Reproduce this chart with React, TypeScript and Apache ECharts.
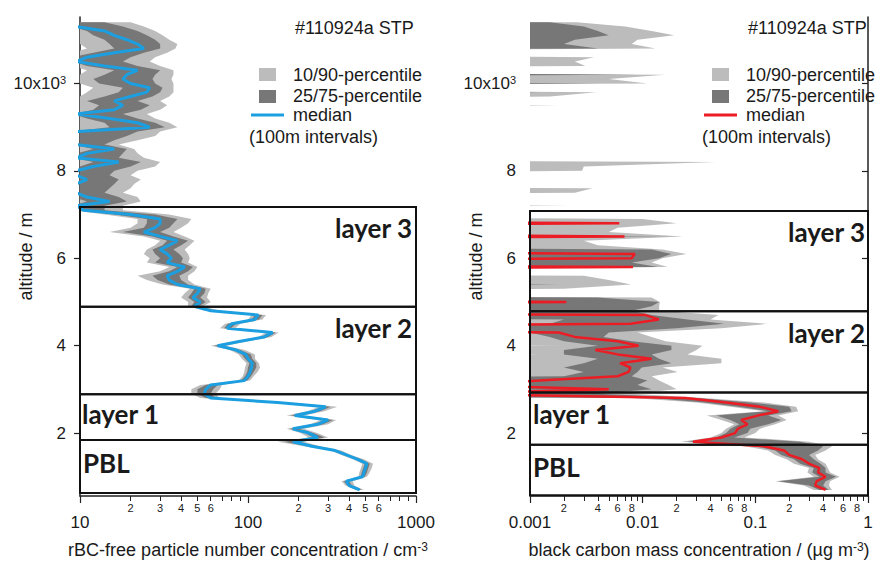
import React, { useEffect, useRef } from 'react';
import * as echarts from 'echarts';

const FONT = '"Liberation Sans", Arial, Helvetica, sans-serif';
const LAYER_FONT = 'Lato, "Noto Sans", sans-serif';
const TXT = '#1a1a1a';
const LIGHT = '#bcbcbc';
const DARK = '#777777';
const BLUE = '#1c9fe0';
const RED = '#ec1c24';
const FLOOR = 1e-9;

// altitude levels in km (100 m intervals)
const ALT = [0.7, 0.8, 0.9, 1.0, 1.1, 1.2, 1.3, 1.4, 1.5, 1.6, 1.7, 1.8, 1.9, 2.0, 2.1, 2.2, 2.3, 2.4, 2.5, 2.6,
  2.7, 2.8, 2.9, 3.0, 3.1, 3.2, 3.3, 3.4, 3.5, 3.6, 3.7, 3.8, 3.9, 4.0, 4.1, 4.2, 4.3, 4.4, 4.5, 4.6,
  4.7, 4.8, 4.9, 5.0, 5.1, 5.2, 5.3, 5.4, 5.5, 5.6, 5.7, 5.8, 5.9, 6.0, 6.1, 6.2, 6.3, 6.4, 6.5, 6.6,
  6.7, 6.8, 6.9, 7.0, 7.1, 7.2, 7.3, 7.4, 7.5, 7.6, 7.7, 7.8, 7.9, 8.0, 8.1, 8.2, 8.3, 8.4, 8.5, 8.6,
  8.7, 8.8, 8.9, 9.0, 9.1, 9.2, 9.3, 9.4, 9.5, 9.6, 9.7, 9.8, 9.9, 10.0, 10.1, 10.2, 10.3, 10.4, 10.5, 10.6,
  10.7, 10.8, 10.9, 11.0, 11.1, 11.2, 11.3, 11.4];

// rBC-free particle number concentration (cm^-3)
const N_P10 = [440, 380, 360, 455, 460, 470, 480, 420, 360, 310,
  215, 150, 230, 205, 170, 235, 270, 170, 225, 265,
  130, 52, 46, 46, 52, 88, 93, 95, 96, 98,
  92, 88, 78, 60, 83, 115, 128, 68, 73, 100,
  105, 55, 44, 44, 40, 42, 45, 31, 25, 22,
  30, 34, 25, 26, 24, 25, 28, 30, 24, 15,
  20, 22, 22, 14, 9, 8, 9, 8, 8, 8,
  8, 8, 8, 8, 8, 9, 8, 8, 9, 8,
  8, 8, 8, 10, 10, 9, 8, 9, 10, 9,
  10, 11, 12, 10, 9, 10, 11, 9, 8, 8,
  9, 11, 10, 10, 9, 9, 8, 8];
const N_P25 = [450, 390, 372, 468, 475, 485, 495, 435, 372, 320,
  228, 165, 245, 218, 178, 248, 285, 180, 238, 278,
  140, 56, 50, 50, 56, 91, 96, 99, 100, 102,
  96, 92, 82, 63, 86, 120, 134, 72, 76, 105,
  110, 57, 46, 48, 44, 46, 48, 34, 29, 27,
  34, 38, 28, 30, 28, 27, 31, 33, 27, 18,
  24, 25, 25, 16, 9.5, 9, 11, 9, 9, 9,
  9, 9.5, 9, 9, 10, 12, 9, 9.5, 12, 9,
  9, 9, 9, 15, 14, 11, 9, 12, 13, 11,
  14, 17, 18, 13, 12, 14, 16, 11, 9, 9,
  12, 16, 15, 14, 12, 11, 9, 9];
const N_MED = [462, 400, 385, 480, 490, 500, 510, 450, 385, 330,
  240, 185, 260, 230, 185, 260, 300, 190, 250, 290,
  150, 60, 55, 56, 60, 95, 100, 103, 105, 106,
  100, 97, 85, 66, 90, 125, 140, 75, 80, 110,
  115, 60, 48, 52, 47, 50, 52, 38, 34, 33,
  38, 42, 33, 35, 33, 30, 34, 38, 30, 24,
  28, 30, 30, 20, 10.5, 9.5, 15, 11, 9.5, 9.5,
  9.5, 11, 9.5, 9.5, 12, 17, 9.5, 11, 16, 9.5,
  9.5, 9.5, 9.5, 26, 22, 15, 9.5, 16, 18, 16,
  20, 25, 26, 20, 18, 19, 22, 14, 9.5, 11,
  16, 24, 22, 19, 16, 14, 9.5, 9.5];
const N_P75 = [475, 415, 400, 495, 510, 520, 530, 470, 398, 345,
  255, 200, 285, 245, 200, 280, 320, 205, 268, 310,
  162, 64, 60, 62, 66, 99, 104, 108, 112, 112,
  106, 104, 90, 70, 95, 132, 146, 79, 85, 116,
  122, 64, 51, 56, 52, 55, 56, 44, 40, 39,
  44, 47, 40, 41, 39, 36, 40, 44, 36, 30,
  34, 36, 38, 28, 14, 14, 19, 17, 14, 15,
  16, 17, 15, 16, 20, 23, 17, 18, 19, 14,
  16, 19, 22, 32, 28, 22, 18, 23, 26, 22,
  27, 30, 31, 28, 27, 28, 30, 22, 18, 20,
  24, 30, 30, 28, 25, 22, 18, 14];
const N_P90 = [490, 430, 420, 510, 530, 545, 555, 490, 410, 360,
  268, 215, 300, 258, 215, 300, 335, 215, 285, 340,
  175, 68, 64, 68, 70, 103, 108, 114, 118, 116,
  110, 110, 96, 74, 100, 138, 152, 84, 90, 122,
  128, 68, 54, 60, 57, 58, 60, 48, 44, 44,
  48, 50, 44, 45, 44, 42, 45, 48, 42, 36,
  40, 44, 46, 34, 18, 18, 23, 22, 18, 20,
  21, 23, 20, 22, 28, 30, 24, 22, 21, 17,
  22, 28, 30, 38, 34, 28, 25, 30, 33, 30,
  34, 36, 36, 36, 35, 36, 36, 30, 26, 28,
  33, 37, 38, 34, 31, 28, 24, 20];

// black carbon mass concentration (ug m^-3); 0 = below detection
const BC_P10 = [0.33, 0.27, 0.15, 0.33, 0.29, 0.30, 0.22, 0.19, 0.15, 0.13,
  0.08, 0.022, 0.04, 0.05, 0.055, 0.065, 0.05, 0.037, 0.12, 0.06,
  0.03, 0.008, 0, 0, 0, 0, 0, 0, 0, 0,
  0, 0.0012, 0, 0.002, 0, 0, 0, 0, 0, 0,
  0, 0, 0, 0, 0, 0, 0, 0, 0, 0,
  0, 0, 0, 0, 0, 0, 0, 0, 0, 0,
  0, 0, 0, 0, 0, 0, 0, 0, 0, 0,
  0, 0, 0, 0, 0, 0, 0, 0, 0, 0,
  0, 0, 0, 0, 0, 0, 0, 0, 0, 0,
  0, 0, 0, 0, 0, 0, 0, 0, 0, 0,
  0, 0, 0, 0, 0, 0, 0, 0];
const BC_P25 = [0.37, 0.30, 0.16, 0.37, 0.32, 0.33, 0.25, 0.22, 0.17, 0.15,
  0.10, 0.025, 0.045, 0.055, 0.06, 0.072, 0.06, 0.045, 0.13, 0.07,
  0.035, 0.012, 0, 0.002, 0, 0, 0.002, 0.003, 0.002, 0.003,
  0.004, 0.002, 0.002, 0.004, 0.002, 0.0015, 0.001, 0, 0.0015, 0.002,
  0, 0, 0, 0.001, 0, 0, 0, 0, 0, 0,
  0, 0, 0, 0, 0, 0, 0, 0, 0, 0,
  0, 0, 0, 0, 0, 0, 0, 0, 0, 0,
  0, 0, 0, 0, 0, 0, 0, 0, 0, 0,
  0, 0, 0, 0, 0, 0, 0, 0, 0, 0,
  0, 0, 0, 0, 0, 0, 0, 0, 0, 0,
  0, 0, 0, 0, 0, 0, 0, 0];
const BC_MED = [0.42, 0.34, 0.35, 0.42, 0.36, 0.37, 0.30, 0.26, 0.20, 0.18,
  0.12, 0.028, 0.05, 0.066, 0.07, 0.085, 0.075, 0.105, 0.16, 0.11,
  0.055, 0.024, 0.0002, 0.005, 0.0002, 0.0012, 0.006, 0.0075, 0.0078, 0.0063,
  0.012, 0.006, 0.0038, 0.0092, 0.006, 0.0025, 0.0018, 0, 0.0078, 0.0139,
  0.0106, 0, 0, 0.0021, 0, 0, 0, 0, 0, 0,
  0, 0.0082, 0, 0.008, 0.0085, 0, 0, 0, 0.0069, 0,
  0, 0.0062, 0, 0, 0, 0, 0, 0, 0, 0,
  0, 0, 0, 0, 0, 0, 0, 0, 0, 0,
  0, 0, 0, 0, 0, 0, 0, 0, 0, 0,
  0, 0, 0, 0, 0, 0, 0, 0, 0, 0,
  0, 0, 0, 0, 0, 0, 0, 0];
const BC_P75 = [0.45, 0.40, 0.42, 0.52, 0.42, 0.42, 0.38, 0.33, 0.30, 0.36,
  0.40, 0.25, 0.065, 0.085, 0.09, 0.13, 0.17, 0.13, 0.21, 0.20,
  0.09, 0.03, 0.004, 0.012, 0.009, 0.011, 0.008, 0.009, 0.0098, 0.018,
  0.014, 0.012, 0.018, 0.018, 0.008, 0.0045, 0.005, 0.02, 0.053, 0.025,
  0.012, 0.008, 0.012, 0.014, 0.004, 0, 0, 0.0018, 0, 0,
  0, 0.0136, 0.008, 0.014, 0.018, 0.012, 0, 0, 0.018, 0,
  0, 0.0062, 0, 0, 0, 0, 0, 0, 0, 0,
  0, 0, 0, 0, 0, 0, 0, 0, 0, 0,
  0, 0, 0, 0, 0, 0, 0, 0, 0, 0,
  0, 0.0012, 0, 0.004, 0, 0.009, 0, 0, 0, 0,
  0, 0.004, 0.002, 0.0025, 0.005, 0.004, 0.003, 0.0015];
const BC_P90 = [0.48, 0.45, 0.46, 0.56, 0.46, 0.44, 0.42, 0.36, 0.34, 0.42,
  0.48, 0.30, 0.08, 0.10, 0.11, 0.15, 0.19, 0.16, 0.24, 0.23,
  0.12, 0.035, 0.008, 0.02, 0.017, 0.014, 0.012, 0.0205, 0.015, 0.05,
  0.05, 0.025, 0.03, 0.034, 0.016, 0.012, 0.009, 0.05, 0.128, 0.04,
  0.047, 0.014, 0.014, 0.0142, 0.012, 0, 0.002, 0.0079, 0.005, 0.003,
  0, 0.0167, 0.012, 0.015, 0.0245, 0.015, 0.004, 0.003, 0.0227, 0.005,
  0.006, 0.02, 0.01, 0, 0, 0.0022, 0, 0, 0.0025, 0.0036,
  0, 0, 0, 0.0029, 0.003, 0.045, 0, 0, 0, 0,
  0, 0, 0, 0, 0, 0, 0, 0, 0.0018, 0,
  0.0015, 0.0039, 0, 0.011, 0.005, 0.0157, 0, 0.0031, 0.0025, 0.0037,
  0, 0.013, 0.008, 0.009, 0.019, 0.012, 0.007, 0.0026];

// layer boundaries (km)
const N_LAYERS = [0.63, 1.84, 2.89, 4.89, 7.17];
const BC_LAYERS = [0.58, 1.73, 2.93, 4.79, 7.08];

// axes
const ALT_MIN = 0.56;
const ALT_MAX = 11.52;
const ALT_TICKS = [2, 4, 6, 8, 10];
const N_RANGE = [10, 1000];
const BC_RANGE = [0.001, 1];
const N_MINOR_TICKS = [20, 30, 40, 50, 60, 70, 80, 90, 200, 300, 400, 500, 600, 700, 800, 900];
const N_MINOR_LABELS = [20, 30, 40, 50, 60, 200, 300, 400, 500, 600];
const BC_MINOR_TICKS = [0.002, 0.003, 0.004, 0.005, 0.006, 0.007, 0.008, 0.009,
  0.02, 0.03, 0.04, 0.05, 0.06, 0.07, 0.08, 0.09, 0.2, 0.3, 0.4, 0.5, 0.6, 0.7, 0.8, 0.9];
const BC_MINOR_LABELS = [0.002, 0.004, 0.006, 0.008, 0.02, 0.04, 0.06, 0.08, 0.2, 0.4, 0.6, 0.8];

const pos = (v: number) => (v > 0 ? v : FLOOR);

function bandSeries(xi: number, yi: number, lo: number[], hi: number[], color: string, z: number) {
  return {
    type: 'custom',
    xAxisIndex: xi,
    yAxisIndex: yi,
    clip: true,
    silent: true,
    z,
    data: [[pos(hi[0]), ALT[0]]],
    renderItem: (_p: any, api: any) => {
      const pts: number[][] = [];
      for (let i = 0; i < ALT.length; i++) pts.push(api.coord([pos(lo[i]), ALT[i]]));
      for (let i = ALT.length - 1; i >= 0; i--) pts.push(api.coord([pos(hi[i]), ALT[i]]));
      return { type: 'polygon', shape: { points: pts }, style: { fill: color } };
    },
  };
}

function boxSeries(xi: number, yi: number, bounds: number[], range: number[]) {
  return {
    type: 'custom',
    xAxisIndex: xi,
    yAxisIndex: yi,
    silent: true,
    z: 6,
    data: bounds.slice(0, -1).map((b) => [range[0], b]),
    renderItem: (p: any, api: any) => {
      const i = p.dataIndex;
      const a = api.coord([range[0], bounds[i]]);
      const b = api.coord([range[1], bounds[i + 1]]);
      return {
        type: 'rect',
        shape: { x: a[0], y: b[1], width: b[0] - a[0], height: a[1] - b[1] },
        style: { fill: 'none', stroke: '#111', lineWidth: 2 },
      };
    },
  };
}

function medianSeries(xi: number, yi: number, med: number[], color: string, w: number) {
  return {
    type: 'line',
    xAxisIndex: xi,
    yAxisIndex: yi,
    symbol: 'none',
    silent: true,
    clip: true,
    z: 4,
    lineStyle: { color, width: w },
    data: ALT.map((a, i) => [pos(med[i]), a]),
  };
}

const fmtNum = (v: number) => String(+Number(v).toPrecision(6));
const fmtDigit = (v: number) => {
  const e = Math.floor(v + 1e-9);
  return String(Math.round(Math.pow(10, v - e)));
};

function majorAxis(grid: number, range: number[], name: string) {
  return {
    gridIndex: grid,
    type: 'log',
    logBase: 10,
    min: range[0],
    max: range[1],
    position: 'bottom',
    axisLine: { show: true, lineStyle: { color: '#222', width: 1.5 } },
    axisTick: { show: true, length: 7, lineStyle: { color: '#222', width: 1.2 } },
    minorTick: { show: false },
    splitLine: { show: false },
    axisLabel: {
      show: true, showMinLabel: true, showMaxLabel: true, margin: 18, fontSize: 17,
      fontFamily: FONT, color: TXT, formatter: fmtNum,
    },
    name,
    nameLocation: 'middle',
    nameGap: 45,
    nameMoveOverlap: false,
    nameTextStyle: {
      fontSize: 18, fontFamily: FONT, color: TXT,
      rich: { sup: { fontSize: 12, fontFamily: FONT, color: TXT, verticalAlign: 'top', lineHeight: 8 } },
    },
  };
}

function minorAxis(grid: number, range: number[], ticks: number[], labels: number[]) {
  return {
    gridIndex: grid,
    type: 'value',
    min: Math.log10(range[0]),
    max: Math.log10(range[1]),
    position: 'bottom',
    axisLine: { show: false },
    axisTick: { show: true, length: 5, customValues: ticks.map(Math.log10), lineStyle: { color: '#222', width: 1 } },
    splitLine: { show: false },
    axisLabel: {
      show: true, customValues: labels.map(Math.log10), margin: 6, fontSize: 11,
      fontFamily: FONT, color: TXT, formatter: fmtDigit,
    },
  };
}

function altAxis(grid: number) {
  return {
    gridIndex: grid,
    type: 'value',
    min: ALT_MIN,
    max: ALT_MAX,
    axisLine: { show: true, lineStyle: { color: '#222', width: 1.5 } },
    axisTick: { show: true, length: 6, customValues: ALT_TICKS, lineStyle: { color: '#222', width: 1.2 } },
    splitLine: { show: false },
    axisLabel: {
      show: true, customValues: ALT_TICKS, margin: 14, fontSize: 17, fontFamily: FONT, color: TXT,
      formatter: (v: number) => (v === 10 ? '10x10{sup|3}' : String(v)),
      rich: { sup: { fontSize: 11, fontFamily: FONT, color: TXT, verticalAlign: 'top', lineHeight: 8 } },
    },
    name: 'altitude / m',
    nameLocation: 'middle',
    nameRotate: 90,
    nameGap: 45,
    nameMoveOverlap: false,
    nameTextStyle: { fontSize: 18, fontFamily: FONT, color: TXT },
  };
}

function txt(x: number, y: number, text: string, size: number, align = 'left', bold = false, family = FONT) {
  return {
    type: 'text',
    x,
    y,
    silent: true,
    style: {
      text, fill: TXT, fontSize: size, fontFamily: family, fontWeight: bold ? 'bold' : 'normal',
      align, verticalAlign: 'middle',
    },
  };
}

function legend(x0: number, lineColor: string) {
  // x0: left edge of the percentile swatches
  return [
    txt(x0 + 36, 28, '#110924a STP', 18),
    { type: 'rect', silent: true, shape: { x: x0, y: 68, width: 17, height: 13 }, style: { fill: LIGHT } },
    txt(x0 + 34, 75, '10/90-percentile', 18),
    { type: 'rect', silent: true, shape: { x: x0, y: 90, width: 17, height: 13 }, style: { fill: DARK } },
    txt(x0 + 34, 96, '25/75-percentile', 18),
    { type: 'line', silent: true, shape: { x1: x0 - 8, y1: 115, x2: x0 + 25, y2: 115 }, style: { stroke: lineColor, lineWidth: 3 } },
    txt(x0 + 34, 115, 'median', 18),
    txt(x0 - 10, 137, '(100m intervals)', 18),
  ];
}

export default function App() {
  const ref = useRef<HTMLDivElement>(null);
  useEffect(() => {
    if (!ref.current) return;
    const chart = echarts.init(ref.current, null, { renderer: 'svg' });
    const option: any = {
      animation: false,
      backgroundColor: '#ffffff',
      grid: [
        { left: 80, top: 17, width: 336, height: 479, containLabel: false, outerBoundsMode: 'none' },
        { left: 530, top: 17, width: 338, height: 479, containLabel: false, outerBoundsMode: 'none' },
      ],
      xAxis: [
        majorAxis(0, N_RANGE, 'rBC-free particle number concentration / cm{sup|-3}'),
        minorAxis(0, N_RANGE, N_MINOR_TICKS, N_MINOR_LABELS),
        majorAxis(1, BC_RANGE, 'black carbon mass concentration / (µg m{sup|-3})'),
        minorAxis(1, BC_RANGE, BC_MINOR_TICKS, BC_MINOR_LABELS),
      ],
      yAxis: [altAxis(0), altAxis(1)],
      series: [
        bandSeries(0, 0, N_P10, N_P90, LIGHT, 2),
        bandSeries(0, 0, N_P25, N_P75, DARK, 3),
        medianSeries(0, 0, N_MED, BLUE, 3),
        boxSeries(0, 0, N_LAYERS, N_RANGE),
        bandSeries(2, 1, BC_P10, BC_P90, LIGHT, 2),
        bandSeries(2, 1, BC_P25, BC_P75, DARK, 3),
        medianSeries(2, 1, BC_MED, RED, 2.5),
        boxSeries(2, 1, BC_LAYERS, BC_RANGE),
      ],
      graphic: [
        ...legend(259, BLUE),
        ...legend(712, RED),
        txt(412, 228, 'layer 3', 26, 'right', true, LAYER_FONT),
        txt(412, 328, 'layer 2', 26, 'right', true, LAYER_FONT),
        txt(82, 414, 'layer 1', 26, 'left', true, LAYER_FONT),
        txt(83, 463, 'PBL', 26, 'left', true, LAYER_FONT),
        txt(865, 232, 'layer 3', 26, 'right', true, LAYER_FONT),
        txt(865, 333, 'layer 2', 26, 'right', true, LAYER_FONT),
        txt(533, 414, 'layer 1', 26, 'left', true, LAYER_FONT),
        txt(533, 467, 'PBL', 26, 'left', true, LAYER_FONT),
      ],
    };
    chart.setOption(option);
    return () => chart.dispose();
  }, []);
  return (
    <div
      ref={ref}
      style={{ position: 'fixed', left: 0, top: 0, width: 877, height: 561, background: '#fff' }}
    />
  );
}
